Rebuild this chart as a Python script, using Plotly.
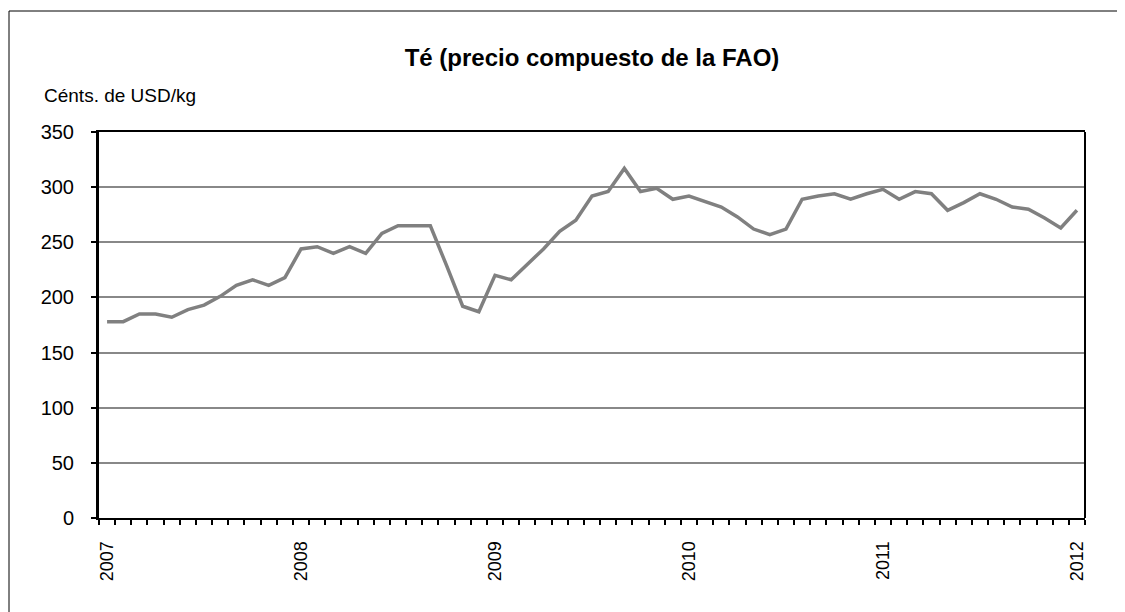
import plotly.graph_objects as go

months = list(range(61))  # Jan 2007 .. Jan 2012
values = [178, 178, 185, 185, 182, 189, 193, 201, 211, 216, 211, 218,
          244, 246, 240, 246, 240, 258, 265, 265, 265, 229, 192, 187,
          220, 216, 230, 244, 260, 270, 292, 296, 317, 296, 299, 289,
          292, 287, 282, 273, 262, 257, 262, 289, 292, 294, 289, 294,
          298, 289, 296, 294, 279, 286, 294, 289, 282, 280, 272, 263,
          279]
year_pos = [0, 12, 24, 36, 48, 60]
year_labels = ["2007", "2008", "2009", "2010", "2011", "2012"]
y_ticks = [0, 50, 100, 150, 200, 250, 300, 350]

FONT = "Liberation Sans, Arial, sans-serif"
OFF = 8  # page body margin
W, H = 1125 - OFF, 612 - OFF
ML, MR, MT, MB = 99 - OFF, 40, 132 - OFF, 94


def px_to_paper_x(px):
    return (px - OFF - ML) / (W - ML - MR)


def px_to_paper_y(py):
    return (H - MB - (py - OFF)) / (H - MT - MB)


fig = go.Figure()
fig.add_trace(go.Scatter(x=months, y=values, mode="lines",
                         line=dict(color="#808080", width=3.5),
                         hoverinfo="x+y", showlegend=False))

fig.update_layout(
    width=W, height=H,
    margin=dict(l=ML, r=MR, t=MT, b=MB),
    paper_bgcolor="white", plot_bgcolor="white",
    font=dict(family=FONT, size=16, color="black"),
    title=dict(text="<b>Té (precio compuesto de la FAO)</b>",
               x=0.5, xref="paper", y=1 - (58 - OFF) / H, yref="container",
               xanchor="center", yanchor="middle",
               font=dict(size=24, family=FONT, color="black")),
    xaxis=dict(range=[-0.5, 60.5], tickmode="array", tickvals=year_pos,
               ticktext=year_labels, tickangle=-90, ticks="",
               showgrid=False, zeroline=False,
               showline=True, linecolor="black", linewidth=2, mirror=True,
               ticklabelstandoff=14,
               minor=dict(tick0=-0.5, dtick=1, ticks="outside", ticklen=5,
                          tickwidth=2, tickcolor="black", showgrid=False),
               tickfont=dict(size=18, family=FONT)),
    yaxis=dict(range=[0, 350], tickmode="array", tickvals=y_ticks,
               ticks="outside", ticklen=5, tickwidth=2, tickcolor="black",
               showgrid=True, gridcolor="#888888", gridwidth=1.5,
               zeroline=False, showline=True, linecolor="black", linewidth=3,
               ticklabelstandoff=13,
               tickfont=dict(size=20, family=FONT)),
    annotations=[dict(text="Cénts. de USD/kg",
                      x=px_to_paper_x(42), y=px_to_paper_y(95),
                      xref="paper", yref="paper", showarrow=False,
                      xanchor="left", yanchor="middle",
                      font=dict(size=19, family=FONT, color="black"))],
)

fig.add_shape(type="line", xref="paper", yref="paper",
              x0=1, x1=1, y0=0, y1=1, line=dict(color="black", width=2))
fig.add_shape(type="rect", xref="paper", yref="paper",
              x0=px_to_paper_x(9), x1=px_to_paper_x(1200),
              y0=px_to_paper_y(700), y1=px_to_paper_y(11),
              line=dict(color="black", width=1), layer="below")

fig.write_html("out.html")
